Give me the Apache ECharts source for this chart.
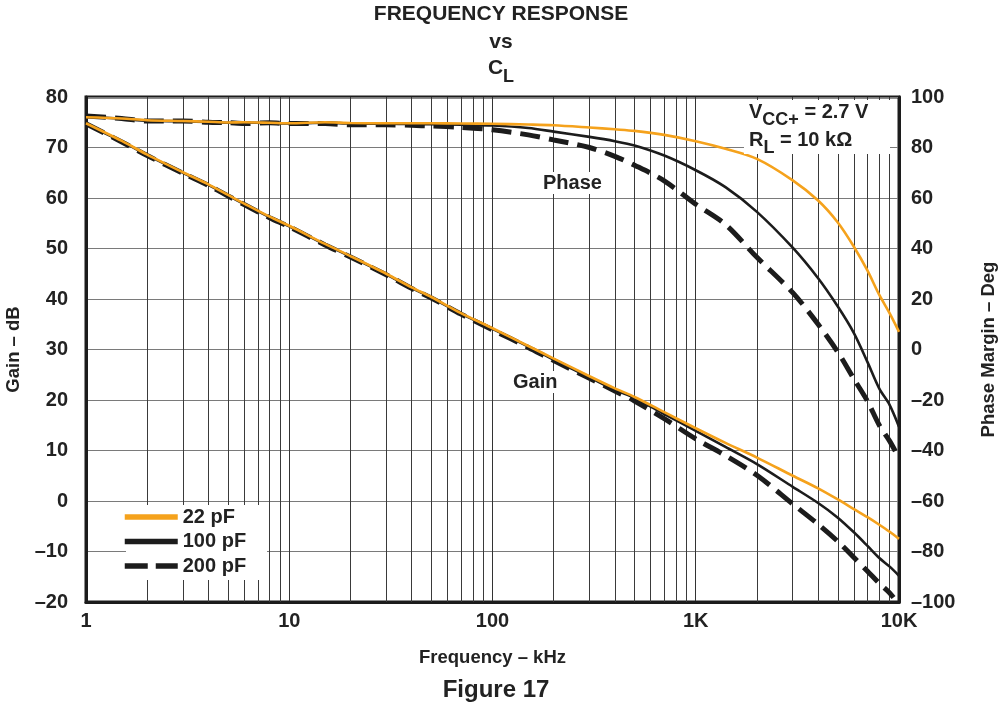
<!DOCTYPE html>
<html>
<head>
<meta charset="utf-8">
<script src="https://cdn.jsdelivr.net/npm/echarts@6/dist/echarts.min.js"></script>
<style>
html,body{margin:0;padding:0;background:#fff;}
#chart{width:1003px;height:712px;}
</style>
</head>
<body>
<div id="chart"></div>
<script>
// ---- data (frequency in the axis units shown: 1 ... 10K) ----
const freq = [1,1.5,2,3,4,5,6,8,10,15,20,30,40,50,70,100,150,200,300,400,500,700,1000,1400,2000,3000,4000,5000,6000,7000,8000,9000,10000];
const freqGain200 = [1,1.5,2,3,4,5,6,8,10,15,20,30,40,50,70,100,150,200,300,400,500,700,1000,1400,2000,3000,4000,5000,6000,7000,8000,9000,9400];

const gain22  = [74.8,71.3,68.6,65.1,62.7,60.6,58.9,56.3,54.5,50.9,48.5,45.0,42.3,40.4,37.2,34.2,30.7,28.2,24.7,22.3,20.6,17.6,14.4,11.5,8.6,5.0,2.5,0.3,-1.6,-3.2,-4.7,-6.1,-7.5];
const gain100 = [74.6,71.2,68.5,65.0,62.6,60.5,58.8,56.2,54.4,50.8,48.4,44.9,42.2,40.3,37.1,34.1,30.6,28.0,24.5,22.0,20.4,17.2,13.9,10.7,7.3,2.8,-0.4,-3.3,-6.2,-8.9,-11.3,-13.0,-14.8];
const gain200 = [74.7,71.1,68.4,64.9,62.5,60.4,58.7,56.1,54.3,50.7,48.3,44.8,42.1,40.2,37.0,33.9,30.4,27.8,24.3,21.8,19.8,16.3,12.3,9.0,5.1,-0.6,-4.6,-8.0,-11.2,-13.9,-16.3,-18.2,-19.1];

const phase22  = [92.0,91.5,90.8,90.5,90.2,89.9,90.0,89.8,89.6,90.0,89.7,89.6,89.6,89.6,89.5,89.4,89.1,88.8,87.9,87.2,86.6,85.0,82.5,79.5,75.5,67.0,59.0,50.3,40.7,31.2,21.6,14.3,7.0];
const phase100 = [92.2,91.4,90.6,90.4,90.1,89.8,89.9,89.7,89.5,89.8,89.5,89.4,89.3,89.2,89.0,88.7,87.7,86.3,84.2,82.5,80.8,76.8,71.0,64.3,54.5,40.3,28.2,17.0,6.5,-5.0,-15.5,-22.0,-30.6];
const phase200 = [92.5,91.5,90.5,90.5,90.0,89.8,89.5,89.8,89.5,89.5,89.0,89.0,88.8,88.5,88.0,87.0,85.0,83.0,80.0,76.5,73.0,66.8,57.5,49.5,36.5,22.5,10.0,-1.0,-11.7,-20.5,-30.0,-36.3,-43.0];

const minorGrid = [2,3,4,5,6,7,8,9,20,30,40,50,60,70,80,90,200,300,400,500,600,700,800,900,2000,3000,4000,5000,6000,7000,8000,9000];
const xTickLabels = {1:'1',10:'10',100:'100',1000:'1K',10000:'10K'};
const seriesNames = ['22 pF','100 pF','200 pF'];

// ---- chart ----
const FONT = 'Liberation Sans, Arial, sans-serif';
const ORANGE = '#F5A21C';
const BLACK = '#1c1c1c';
const TXT = '#222';
const pairs = (xs, ys) => xs.map((x,i)=>[x, ys[i]]);
const dash = (v) => v < 0 ? '\u2013' + Math.abs(v) : String(v);

const chart = echarts.init(document.getElementById('chart'), null, {renderer:'canvas'});

function lineSeries(name, xs, ys, yIdx, color, width, type) {
  return {
    name: name, type: 'line', xAxisIndex: 0, yAxisIndex: yIdx,
    data: pairs(xs, ys), symbol: 'none', smooth: 0.3, z: 3,
    lineStyle: {color: color, width: width, type: type, cap: 'butt'},
    itemStyle: {color: color},
    emphasis: {disabled: true}, silent: true
  };
}

const tickFont = {fontFamily: FONT, fontWeight: 'bold', fontSize: 20, color: TXT};
const nameFont = {fontFamily: FONT, fontWeight: 'bold', fontSize: 18.5, color: TXT};

const option = {
  animation: false,
  backgroundColor: '#fff',
  grid: {left: 86, right: 104, top: 97, bottom: 110, containLabel: false, outerBoundsMode: 'none',
         show: true, borderColor: BLACK, borderWidth: 3, backgroundColor: 'transparent'},
  xAxis: {
    type: 'log', logBase: 10, min: 1, max: 10000,
    axisLine: {show: true, onZero: false, lineStyle: {color: BLACK, width: 3}},
    axisTick: {show: false},
    splitLine: {show: true, lineStyle: {color: '#333', width: 1}},
    axisLabel: Object.assign({formatter: v => xTickLabels[Math.round(v)] || '', margin: 9}, tickFont),
    name: 'Frequency \u2013 kHz', nameLocation: 'middle', nameGap: 46,
    nameTextStyle: nameFont
  },
  yAxis: [
    {
      type: 'value', min: -20, max: 80, interval: 10, position: 'left',
      axisLine: {show: true, onZero: false, lineStyle: {color: BLACK, width: 3}},
      axisTick: {show: false},
      splitLine: {show: true, lineStyle: {color: '#7a7a7a', width: 1}},
      axisLabel: Object.assign({formatter: dash, margin: 18}, tickFont),
      name: 'Gain \u2013 dB', nameLocation: 'middle', nameGap: 58, nameRotate: 90,
      nameTextStyle: nameFont
    },
    {
      type: 'value', min: -100, max: 100, interval: 20, position: 'right',
      axisLine: {show: true, onZero: false, lineStyle: {color: BLACK, width: 3}},
      axisTick: {show: false},
      splitLine: {show: false},
      axisLabel: Object.assign({formatter: dash, margin: 12}, tickFont),
      name: 'Phase Margin \u2013 Deg', nameLocation: 'middle', nameGap: 80, nameRotate: 90,
      nameTextStyle: nameFont
    }
  ],
  legend: {
    data: [
      {name: '22 pF'},
      {name: '100 pF'},
      {name: '200 pF', lineStyle: {type: [23, 8]}}
    ],
    orient: 'vertical', left: 115, top: 503, z: 6,
    itemWidth: 53, itemHeight: 14, itemGap: 4.5,
    padding: [4, 20, 4, 7],
    selectedMode: false,
    itemStyle: {opacity: 0},
    lineStyle: {width: 5.5},
    textStyle: {fontFamily: FONT, fontWeight: 'bold', fontSize: 20, color: TXT}
  },
  series: [
    {
      name: 'grid', type: 'line', data: [], z: 1, silent: true,
      markLine: {
        z: 1, silent: true, symbol: ['none','none'], animation: false,
        label: {show: false},
        lineStyle: {color: '#3a3a3a', width: 1, type: 'solid'},
        emphasis: {disabled: true},
        data: minorGrid.map(v => ({xAxis: v}))
      }
    },
    lineSeries('200 pF', freqGain200, gain200, 0, BLACK, 5, [20, 9]),
    lineSeries('200 pF', freq, phase200, 1, BLACK, 5, [20, 9]),
    lineSeries('100 pF', freq, gain100, 0, BLACK, 2.6, 'solid'),
    lineSeries('100 pF', freq, phase100, 1, BLACK, 2.6, 'solid'),
    lineSeries('22 pF', freq, gain22, 0, ORANGE, 2.6, 'solid'),
    lineSeries('22 pF', freq, phase22, 1, ORANGE, 2.6, 'solid')
  ],
  graphic: [
    {type: 'text', x: 501, y: 14, z: 10, style: {text: 'FREQUENCY RESPONSE', font: 'bold 21px ' + FONT, fill: TXT, align: 'center', verticalAlign: 'middle'}},
    {type: 'text', x: 501, y: 42, z: 10, style: {text: 'vs', font: 'bold 21px ' + FONT, fill: TXT, align: 'center', verticalAlign: 'middle'}},
    {type: 'text', x: 501, y: 58, z: 10, style: {
      text: '{a|C}{b|L}', align: 'center', verticalAlign: 'top',
      rich: {a: {font: 'bold 21px ' + FONT, fill: TXT, lineHeight: 28, verticalAlign: 'top'},
             b: {font: 'bold 18px ' + FONT, fill: TXT, lineHeight: 28, verticalAlign: 'bottom'}}
    }},
    {type: 'rect', shape: {x: 126, y: 505, width: 141, height: 75}, style: {fill: '#fff'}, z: 2},
    {type: 'rect', shape: {x: 744, y: 100, width: 146, height: 54}, style: {fill: '#fff'}, z: 5},
    {type: 'text', x: 749, y: 102, z: 10, style: {
      text: '{a|V}{b|CC+}{a| = 2.7 V}',
      rich: {a: {font: 'bold 20px ' + FONT, fill: TXT, lineHeight: 27, verticalAlign: 'top'},
             b: {font: 'bold 18px ' + FONT, fill: TXT, lineHeight: 27, verticalAlign: 'bottom'}}
    }},
    {type: 'text', x: 749, y: 130, z: 10, style: {
      text: '{a|R}{b|L}{a| = 10 k\u03A9}',
      rich: {a: {font: 'bold 20px ' + FONT, fill: TXT, lineHeight: 27, verticalAlign: 'top'},
             b: {font: 'bold 18px ' + FONT, fill: TXT, lineHeight: 27, verticalAlign: 'bottom'}}
    }},
    {type: 'text', x: 541, y: 183, z: 10, style: {text: 'Phase', font: 'bold 20px ' + FONT, fill: TXT, verticalAlign: 'middle', backgroundColor: '#fff', padding: [1,2,1,2]}},
    {type: 'text', x: 510, y: 382, z: 10, style: {text: 'Gain', font: 'bold 20px ' + FONT, fill: TXT, verticalAlign: 'middle', backgroundColor: '#fff', padding: [1,3,1,3]}},
    {type: 'text', x: 496, y: 690, z: 10, style: {text: 'Figure 17', font: 'bold 24px ' + FONT, fill: TXT, align: 'center', verticalAlign: 'middle'}}
  ]
};
chart.setOption(option);
</script>
</body>
</html>
